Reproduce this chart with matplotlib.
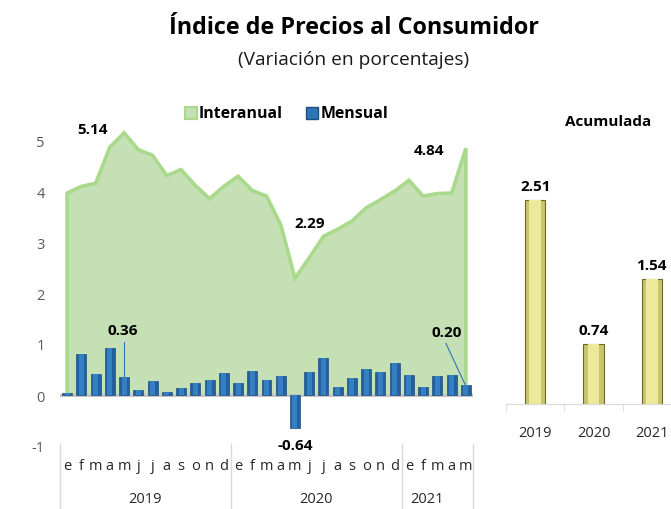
import matplotlib
matplotlib.use("Agg")
import matplotlib.pyplot as plt
from matplotlib.patches import Rectangle
from matplotlib.transforms import blended_transform_factory

plt.rcParams['font.family'] = ['Open Sans', 'DejaVu Sans']
plt.rcParams['axes.unicode_minus'] = False

# datos
meses = ['e', 'f', 'm', 'a', 'm', 'j', 'j', 'a', 's', 'o', 'n', 'd'] * 2 + ['e', 'f', 'm', 'a', 'm']
anios = ['2019', '2020', '2021']
anio_centro = [5.5, 17.5, 25.3]
separadores = [-0.5, 11.5, 23.5, 28.5]

interanual = [3.96, 4.09, 4.15, 4.86, 5.14, 4.81, 4.70, 4.30, 4.42, 4.11, 3.85, 4.09,
              4.29, 4.01, 3.90, 3.34, 2.29, 2.69, 3.11, 3.25, 3.41, 3.67, 3.83, 4.00,
              4.21, 3.90, 3.95, 3.96, 4.84]
mensual = [0.03, 0.80, 0.41, 0.93, 0.36, 0.09, 0.27, 0.06, 0.13, 0.24, 0.30, 0.44,
           0.24, 0.47, 0.30, 0.37, -0.64, 0.46, 0.72, 0.16, 0.33, 0.51, 0.46, 0.62,
           0.39, 0.16, 0.38, 0.40, 0.20]
acumulada = [2.51, 0.74, 1.54]

W, H = 671, 510
def fx(p): return p / W
def fy(p): return 1 - p / H

fig = plt.figure(figsize=(6.71, 5.10), dpi=100)

fig.text(fx(354), fy(28), 'Índice de Precios al Consumidor', ha='center', va='center',
         fontsize=16.8, fontweight='bold', color='black')
fig.text(fx(354), fy(60), '(Variación en porcentajes)', ha='center', va='center',
         fontsize=13.8, color='#1a1a1a')

# grafico principal
ax = fig.add_axes([fx(60), fy(447), (473 - 60) / W, 357 / H])
x = list(range(len(interanual)))
ax.fill_between(x, 0, interanual, color='#c5e0b4', lw=0, zorder=1)
ax.plot([0] + x + [x[-1]], [0] + interanual + [0], color='#a9d98b', lw=2.6,
        solid_joinstyle='miter', zorder=2)
ax.axhline(0, color='#c4c4c4', lw=2.2, zorder=2.5)
ax.bar(x, mensual, width=0.7, color='#24609f', edgecolor='#1d4f82', lw=0.5, zorder=3)
ax.bar(x, mensual, width=0.35, color='#3580c2', lw=0, zorder=3.1)

ax.set_xlim(-0.5, 28.5)
ax.set_ylim(-1, 6)
for s in ax.spines.values():
    s.set_visible(False)
ax.set_yticks(range(-1, 6))
ax.tick_params(axis='y', length=0, pad=11, labelsize=10.5, labelcolor='#595959')
ax.set_xticks(x)
ax.set_xticklabels(meses)
ax.tick_params(axis='x', length=0, pad=9, labelsize=10.5, labelcolor='#262626')

tr = blended_transform_factory(ax.transData, fig.transFigure)
for s in separadores:
    ax.plot([s, s], [fy(445), 0], color='#d9d9d9', lw=1, transform=tr, clip_on=False)
for a, c in zip(anios, anio_centro):
    ax.text(c, fy(500), a, transform=tr, ha='center', va='center', fontsize=10.5, color='#262626')

lab = dict(ha='center', va='center', fontsize=11, fontweight='bold', color='black', zorder=5)
ax.text(1.82, 5.21, '5.14', **lab)
ax.text(17.06, 3.37, '2.29', **lab)
ax.text(25.41, 4.80, '4.84', **lab)
ax.text(3.92, 1.27, '0.36', **lab)
ax.plot([4, 4], [1.03, 0.38], color='#2e75b6', lw=0.8, zorder=4)
ax.text(16.0, -0.99, '-0.64', **lab)
ax.text(26.68, 1.23, '0.20', **lab)
ax.plot([26.6, 27.94], [1.01, 0.21], color='#2e75b6', lw=0.8, zorder=4)

# leyenda
fig.add_artist(Rectangle((fx(185), fy(120)), 12 / W, 12 / H, transform=fig.transFigure,
                         facecolor='#c5e0b4', edgecolor='#a9d98b', lw=1.5))
fig.text(fx(199), fy(114), 'Interanual', ha='left', va='center', fontsize=11.4, fontweight='bold')
fig.add_artist(Rectangle((fx(306), fy(120)), 12 / W, 12 / H, transform=fig.transFigure,
                         facecolor='#2e75b6', edgecolor='#1d4f82', lw=1))
fig.text(fx(321), fy(114), 'Mensual', ha='left', va='center', fontsize=11.4, fontweight='bold')

# acumulada
ax2 = fig.add_axes([fx(506), fy(405), 175 / W, 305 / H])
xa = list(range(len(acumulada)))
ax2.bar(xa, acumulada, width=0.35, color='#c9c56a', edgecolor='#6b6828', lw=0.8, zorder=2)
ax2.bar(xa, acumulada, width=0.2, color='#ecea9a', lw=0, zorder=2.1)
for i, v in enumerate(acumulada):
    ax2.text(i, v + 0.17, f'{v:.2f}', ha='center', va='center', fontsize=11,
             fontweight='bold', color='black')
ax2.set_xlim(-0.5, 2.5)
ax2.set_ylim(0, 3.75)
for s in ['left', 'right', 'top']:
    ax2.spines[s].set_visible(False)
ax2.spines['bottom'].set_color('#d9d9d9')
ax2.set_yticks([])
ax2.set_xticks(xa)
ax2.set_xticklabels(anios)
ax2.set_xticks([-0.5, 0.5, 1.5, 2.5], minor=True)
ax2.tick_params(axis='x', which='major', length=0, pad=15, labelsize=10.5, labelcolor='#262626')
ax2.tick_params(axis='x', which='minor', length=5, color='#d9d9d9')
fig.text(fx(608), fy(122), 'Acumulada', ha='center', va='center', fontsize=11, fontweight='bold')

fig.savefig('out.png', dpi=100)
